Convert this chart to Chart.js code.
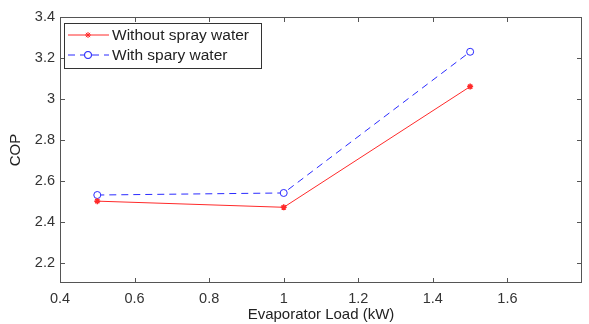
<!DOCTYPE html>
<html>
<head>
<meta charset="utf-8">
<script src="https://cdn.jsdelivr.net/npm/chart.js@4"></script>
<style>
  html, body { margin: 0; padding: 0; background: #fff; }
  #wrap { position: relative; width: 589px; height: 324px; }
</style>
</head>
<body>
<div id="wrap"><canvas id="c"></canvas></div>
<script>
const loadKW = [0.5, 1.0, 1.5];
const copWithout = [2.50, 2.47, 3.06];
const copWith = [2.53, 2.54, 3.23];
const seriesNames = ['Without spray water', 'With spary water'];

const axisColor = '#555';
const font = 'Liberation Sans, Arial, sans-serif';
Chart.defaults.font.family = font;
Chart.defaults.color = '#333';

// MATLAB-style box: inward ticks on all four sides
const boxTicks = {
  id: 'boxTicks',
  afterDraw(chart) {
    const { ctx, chartArea: a, scales: { x, y } } = chart;
    ctx.save();
    ctx.strokeStyle = axisColor;
    ctx.lineWidth = 1;
    ctx.strokeRect(a.left + 0.5, a.top + 0.5, a.right - a.left - 1, a.bottom - a.top - 1);
    ctx.beginPath();
    x.ticks.forEach(t => {
      if (t.value <= x.min || t.value >= x.max) return;
      const px = Math.round(x.getPixelForValue(t.value)) + 0.5;
      ctx.moveTo(px, a.bottom); ctx.lineTo(px, a.bottom - 5);
      ctx.moveTo(px, a.top); ctx.lineTo(px, a.top + 5);
    });
    y.ticks.forEach(t => {
      if (t.value <= y.min || t.value >= y.max) return;
      const py = Math.round(y.getPixelForValue(t.value)) + 0.5;
      ctx.moveTo(a.left, py); ctx.lineTo(a.left + 5, py);
      ctx.moveTo(a.right, py); ctx.lineTo(a.right - 5, py);
    });
    ctx.stroke();
    ctx.restore();
  }
};

// legend box inside the top-left of the axes
const innerLegend = {
  id: 'innerLegend',
  afterDraw(chart) {
    const { ctx, chartArea: a } = chart;
    const l = a.left + 4, t = a.top + 6, w = 197, h = 45;
    ctx.save();
    ctx.fillStyle = '#fff';
    ctx.fillRect(l, t, w, h);
    ctx.strokeStyle = '#333';
    ctx.lineWidth = 1;
    ctx.strokeRect(l + 0.5, t + 0.5, w, h);
    ctx.font = '15.5px ' + font;
    ctx.textBaseline = 'middle';
    chart.data.datasets.forEach((ds, i) => {
      const cy = t + 12 + i * 20;
      ctx.strokeStyle = ds.borderColor;
      ctx.setLineDash(ds.borderDash || []);
      ctx.beginPath();
      ctx.moveTo(l + 4, cy); ctx.lineTo(l + 45, cy);
      ctx.stroke();
      ctx.setLineDash([]);
      Chart.helpers.drawPoint(ctx, {
        pointStyle: ds.pointStyle, radius: ds.pointRadius, borderWidth: 1
      }, l + 24, cy);
      if (ds.pointStyle === 'circle') {
        ctx.fillStyle = '#fff';
        ctx.beginPath(); ctx.arc(l + 24, cy, ds.pointRadius, 0, Math.PI * 2); ctx.fill(); ctx.stroke();
      }
      ctx.fillStyle = '#222';
      ctx.fillText(ds.label, l + 48, cy + 1);
    });
    ctx.restore();
  }
};

new Chart(document.getElementById('c'), {
  type: 'line',
  data: {
    datasets: [
      { label: seriesNames[0], data: loadKW.map((v, i) => ({ x: v, y: copWithout[i] })),
        borderColor: '#ff2a2a', backgroundColor: '#ff2a2a', borderWidth: 1,
        pointStyle: 'star', pointRadius: 3, pointBorderWidth: 1.5, tension: 0 },
      { label: seriesNames[1], data: loadKW.map((v, i) => ({ x: v, y: copWith[i] })),
        borderColor: '#2a2aff', backgroundColor: '#fff', borderWidth: 1, borderDash: [7, 5],
        pointStyle: 'circle', pointRadius: 3.5, pointBorderWidth: 1, tension: 0 },
    ],
  },
  options: {
    responsive: true, maintainAspectRatio: false, animation: false,
    layout: { padding: { top: 17, right: 2, left: 0, bottom: 0 } },
    plugins: { legend: { display: false }, tooltip: { enabled: false } },
    scales: {
      x: {
        type: 'linear', min: 0.4, max: 1.8,
        border: { display: false },
        grid: { display: false, drawTicks: false },
        ticks: { stepSize: 0.2, font: { size: 14.5 }, color: '#333', padding: 7,
          callback: v => (v >= 1.79 ? '' : +v.toFixed(1)) },
        title: { display: true, text: 'Evaporator Load (kW)', font: { size: 15 }, color: '#222', padding: 0 },
        afterFit: s => { s.height = 41; },
      },
      y: {
        min: 2.1, max: 3.4,
        border: { display: false },
        grid: { display: false, drawTicks: false },
        ticks: { stepSize: 0.2, font: { size: 14.5 }, color: '#333', padding: 5,
          callback: v => (Math.abs(v - 2.1) < 1e-6 ? '' : +v.toFixed(1)) },
        title: { display: true, text: 'COP', font: { size: 15 }, color: '#222', padding: 7 },
        afterFit: s => { s.width = 60; },
      },
    },
  },
  plugins: [boxTicks, innerLegend],
});
</script>
</body>
</html>
